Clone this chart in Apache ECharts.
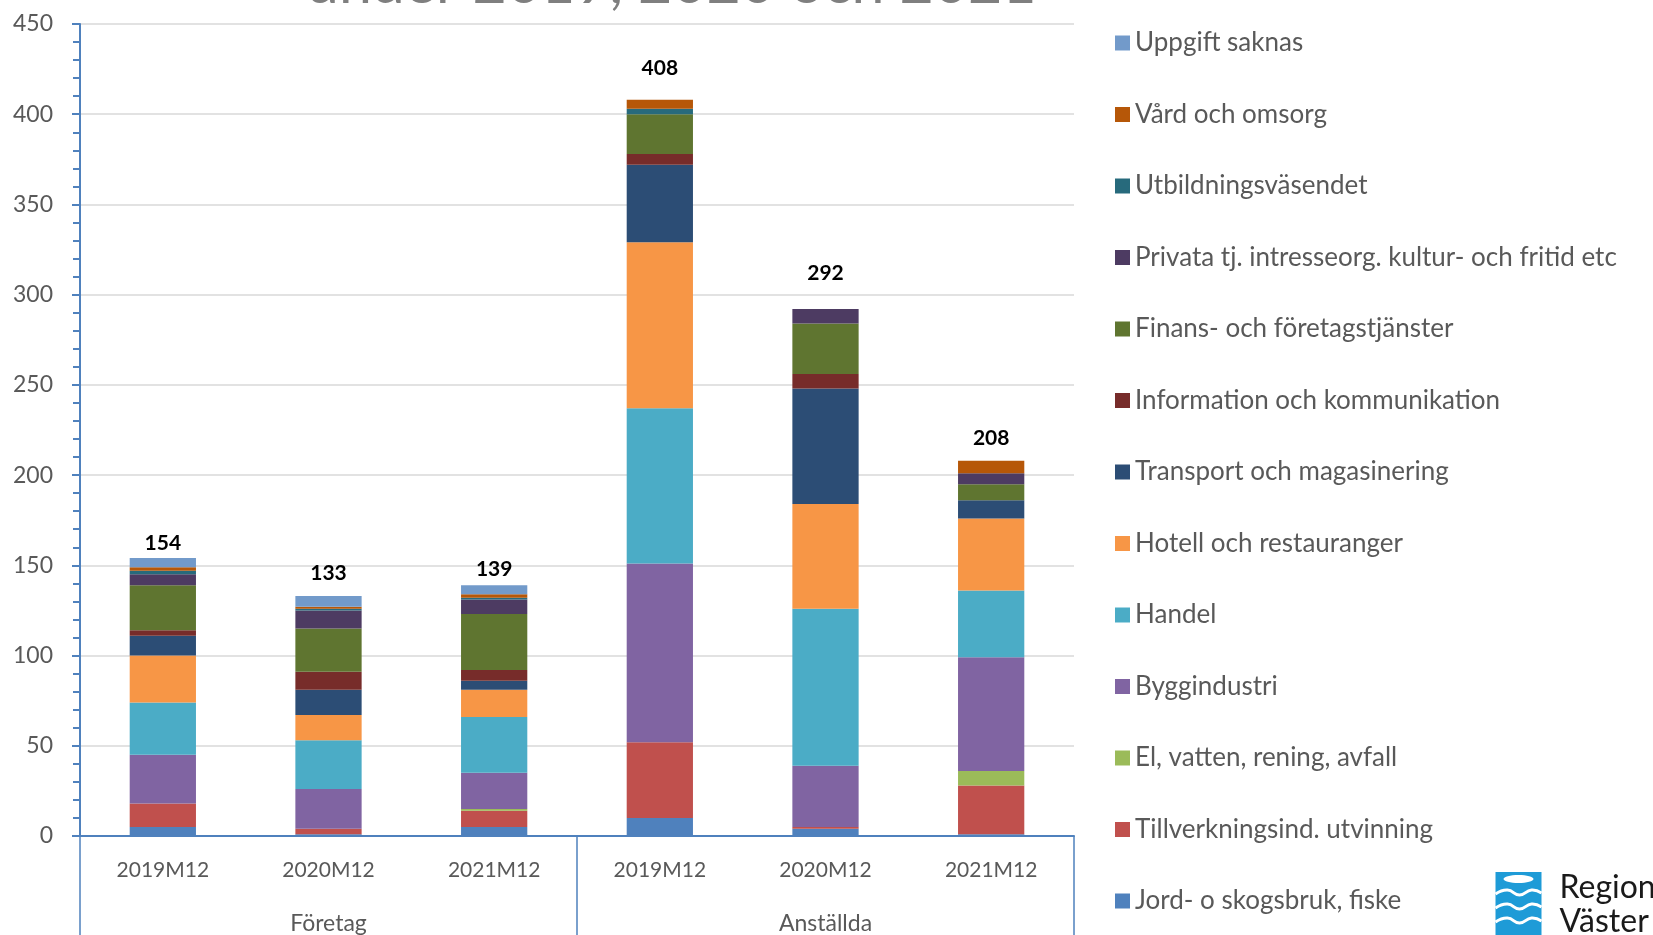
<!DOCTYPE html>
<html>
<head>
<meta charset="utf-8">
<title>Nystartade företag och anställda</title>
<script src="https://cdn.jsdelivr.net/npm/echarts@6.0.0/dist/echarts.min.js"></script>
<style>
  html, body { margin: 0; padding: 0; background: #ffffff; }
  #chart { width: 1653px; height: 935px; }
</style>
</head>
<body>
<div id="chart"></div>
<script>
  // kategorier (två nivåer)
  var periods = ['2019M12', '2020M12', '2021M12', '2019M12', '2020M12', '2021M12'];
  var groups = ['Företag', 'Anställda'];
  var yTicks = { min: 0, max: 450, interval: 50 };

  // branscher, nedifrån och upp i stapeln
  var jord      = [5, 1, 5, 10, 4, 1];
  var tillverk  = [13, 3, 9, 42, 1, 27];
  var elVatten  = [0, 0, 1, 0, 0, 8];
  var bygg      = [27, 22, 20, 99, 34, 63];
  var handel    = [29, 27, 31, 86, 87, 37];
  var hotell    = [26, 14, 15, 92, 58, 40];
  var transport = [11, 14, 5, 43, 64, 10];
  var info      = [3, 10, 6, 6, 8, 0];
  var finans    = [25, 24, 31, 22, 28, 9];
  var privata   = [6, 10, 8, 0, 8, 6];
  var utbildn   = [2, 1, 1, 3, 0, 0];
  var vard      = [2, 1, 2, 5, 0, 7];
  var uppgift   = [5, 6, 5, 0, 0, 0];

  var branscher = [
    { name: 'Jord- o skogsbruk, fiske', data: jord, color: '#4F81BD' },
    { name: 'Tillverkningsind. utvinning', data: tillverk, color: '#C0504D' },
    { name: 'El, vatten, rening, avfall', data: elVatten, color: '#9BBB59' },
    { name: 'Byggindustri', data: bygg, color: '#8064A2' },
    { name: 'Handel', data: handel, color: '#4BACC6' },
    { name: 'Hotell och restauranger', data: hotell, color: '#F79646' },
    { name: 'Transport och magasinering', data: transport, color: '#2C4D75' },
    { name: 'Information och kommunikation', data: info, color: '#772C2A' },
    { name: 'Finans- och företagstjänster', data: finans, color: '#5F7530' },
    { name: 'Privata tj. intresseorg. kultur- och fritid etc', data: privata, color: '#4D3B62' },
    { name: 'Utbildningsväsendet', data: utbildn, color: '#276A7C' },
    { name: 'Vård och omsorg', data: vard, color: '#B65708' },
    { name: 'Uppgift saknas', data: uppgift, color: '#729ACA' }
  ];

  // summa per stapel
  var totals = periods.map(function (p, i) {
    return branscher.reduce(function (s, b) { return s + b.data[i]; }, 0);
  });
  // avstånd från stapeltopp till summaetikett (px)
  var labelLift = [4, 12, 5, 21, 25, 11];

  var font = 'Lato, "Open Sans", sans-serif';
  var blue = '#4F81BD';

  var series = branscher.map(function (b) {
    return {
      name: b.name,
      type: 'bar',
      stack: 'tot',
      xAxisIndex: 0,
      barCategoryGap: '60%',
      data: b.data,
      itemStyle: { color: b.color },
      emphasis: { disabled: true }
    };
  });
  series.push({
    name: 'Summa',
    type: 'bar',
    stack: 'tot',
    xAxisIndex: 0,
    data: totals.map(function (t, i) {
      return { value: 0, label: { distance: labelLift[i] } };
    }),
    itemStyle: { color: 'transparent' },
    label: {
      show: true,
      position: 'top',
      fontFamily: font,
      fontWeight: 'bold',
      fontSize: 21,
      lineHeight: 22,
      color: '#000000',
      formatter: function (p) { return totals[p.dataIndex]; }
    },
    emphasis: { disabled: true }
  });

  var myChart = echarts.init(document.getElementById('chart'));
  var option = {
    animation: false,
    backgroundColor: '#ffffff',
    grid: { left: 80, right: 579, top: 24, bottom: 98, containLabel: false },
    legend: {
      orient: 'vertical',
      left: 1115,
      top: 28,
      padding: 0,
      itemWidth: 15,
      itemHeight: 15,
      itemGap: 41.5,
      icon: 'rect',
      data: branscher.map(function (b) { return b.name; }).reverse(),
      textStyle: { fontFamily: font, fontSize: 26, lineHeight: 30, color: '#595959' }
    },
    xAxis: [
      {
        type: 'category',
        position: 'bottom',
        data: periods,
        axisLine: { show: true, lineStyle: { color: blue, width: 2 } },
        axisTick: { show: false },
        axisLabel: { interval: 0, margin: 24, fontFamily: font, fontSize: 21, color: '#595959' }
      },
      {
        type: 'category',
        position: 'bottom',
        data: groups,
        axisLine: { show: false },
        axisTick: { show: true, length: 110, lineStyle: { color: blue, width: 1.5 } },
        axisLabel: { interval: 0, margin: 76, fontFamily: font, fontSize: 23, color: '#595959' }
      }
    ],
    yAxis: {
      type: 'value',
      min: yTicks.min,
      max: yTicks.max,
      interval: yTicks.interval,
      axisLine: { show: true, lineStyle: { color: blue, width: 2 } },
      axisTick: { show: true, length: 8, lineStyle: { color: blue, width: 2 } },
      minorTick: { show: true, splitNumber: 5, length: 7, lineStyle: { color: blue, width: 2 } },
      splitLine: { show: true, lineStyle: { color: '#D9D9D9', width: 1.5 } },
      axisLabel: { margin: 27, fontFamily: font, fontSize: 23, color: '#595959' }
    },
    graphic: [
      {
        type: 'text',
        left: 306,
        top: -46,
        style: {
          text: 'under 2019, 2020 och 2021',
          font: '59px ' + font,
          fill: '#7F7F7F'
        }
      },
      // logotyp
      {
        type: 'group',
        left: 1493,
        top: 872,
        children: [
          { type: 'rect', shape: { x: 0, y: 0, width: 46, height: 70 }, style: { fill: '#1E9BD7' } },
          { type: 'ellipse', shape: { cx: 23, cy: 7, rx: 15, ry: 4 }, style: { fill: '#ffffff' } },
          { type: 'polyline', shape: { points: [[0, 22], [12, 18], [24, 23], [36, 18], [46, 21]], smooth: 0.5 }, style: { stroke: '#ffffff', lineWidth: 3, fill: null } },
          { type: 'polyline', shape: { points: [[0, 36], [12, 32], [24, 37], [36, 32], [46, 35]], smooth: 0.5 }, style: { stroke: '#ffffff', lineWidth: 3, fill: null } },
          { type: 'polyline', shape: { points: [[0, 50], [12, 46], [24, 51], [36, 46], [46, 49]], smooth: 0.5 }, style: { stroke: '#ffffff', lineWidth: 3, fill: null } },
          { type: 'text', x: 64, y: 0, style: { text: 'Region', font: '32px ' + font, fill: '#1A1A1A' } },
          { type: 'text', x: 64, y: 34, style: { text: 'Väster', font: '32px ' + font, fill: '#1A1A1A' } }
        ]
      }
    ],
    series: series
  };
  myChart.setOption(option);
</script>
</body>
</html>
